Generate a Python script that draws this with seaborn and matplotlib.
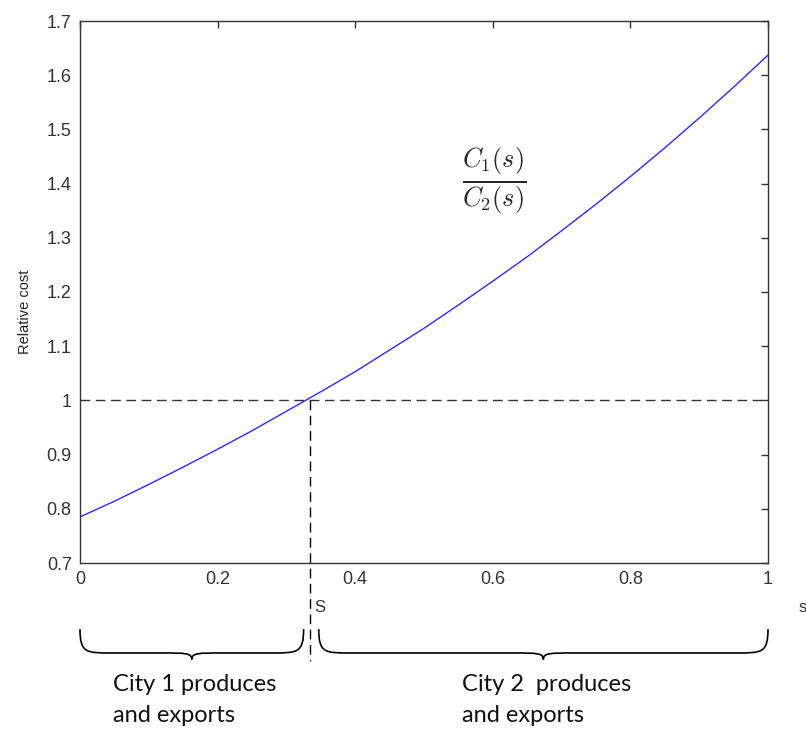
import matplotlib
matplotlib.use("Agg")
import matplotlib.pyplot as plt
from matplotlib.path import Path
from matplotlib.patches import PathPatch
import matplotlib.transforms as mtransforms
import seaborn as sns
import pandas as pd

# ---- data ----
s_values = [0.00, 0.05, 0.10, 0.15, 0.20, 0.25, 0.30, 0.35, 0.40, 0.45, 0.50,
            0.55, 0.60, 0.65, 0.70, 0.75, 0.80, 0.85, 0.90, 0.95, 1.00]
relative_cost = [0.785, 0.814, 0.845, 0.877, 0.910, 0.944, 0.980, 1.016, 1.053,
                 1.093, 1.133, 1.176, 1.220, 1.265, 1.313, 1.362, 1.413, 1.466,
                 1.521, 1.578, 1.637]
threshold_s = 0.335
threshold_cost = 1.0
x_ticks = [0, 0.2, 0.4, 0.6, 0.8, 1]
x_tick_labels = ["0", "0.2", "0.4", "0.6", "0.8", "1"]
y_ticks = [0.7, 0.8, 0.9, 1.0, 1.1, 1.2, 1.3, 1.4, 1.5, 1.6, 1.7]
y_tick_labels = ["0.7", "0.8", "0.9", "1", "1.1", "1.2", "1.3", "1.4", "1.5", "1.6", "1.7"]
region_labels = ["City 1 produces\nand exports", "City 2  produces\nand exports"]

df = pd.DataFrame({"s": s_values, "cost": relative_cost})

sns.set_style("white")
plt.rcParams["font.family"] = ["Liberation Sans", "DejaVu Sans"]
plt.rcParams["mathtext.fontset"] = "cm"

fig = plt.figure(figsize=(8.06, 7.34), dpi=100)
ax = fig.add_axes([80 / 806, 1 - 563 / 734, 688 / 806, 542 / 734])

sns.lineplot(data=df, x="s", y="cost", ax=ax, color="#2a2aff", linewidth=1.0)

ax.set_xlim(0, 1)
ax.set_ylim(0.7, 1.7)
ax.set_xticks(x_ticks)
ax.set_xticklabels(x_tick_labels)
ax.set_yticks(y_ticks)
ax.set_yticklabels(y_tick_labels)
ax.tick_params(direction="in", top=True, right=True, length=5, width=1,
               labelsize=13, labelcolor="#333333", color="#333333", pad=6)
for lab in ax.get_xticklabels() + ax.get_yticklabels():
    lab.set_family(["Liberation Sans", "DejaVu Sans"])
for sp in ax.spines.values():
    sp.set_color("#333333")
    sp.set_linewidth(1.0)
ax.set_xlabel("")
ax.set_ylabel("Relative cost", fontsize=10.5, color="#222222",
              family=["Liberation Sans", "DejaVu Sans"])
ax.yaxis.set_label_coords(-0.07, 0.463)

# dashed reference lines
ax.plot([0, 1], [threshold_cost, threshold_cost], ls=(0, (7, 4)), color="#333333", lw=1.0)
trans = mtransforms.blended_transform_factory(ax.transData, ax.transAxes)
ax.plot([threshold_s, threshold_s], [(threshold_cost - 0.7) / 1.0, -0.18],
        transform=trans, ls=(0, (7, 4)), color="black", lw=1.0, clip_on=False)

# fraction label
ax.text(0.602, 1.405, r"$\frac{C_1(s)}{C_2(s)}$", fontsize=27, ha="center", va="center")

# S and s labels
ax.text(threshold_s + 0.006, -0.083, "S", transform=trans, fontsize=12,
        color="#333333", ha="left", va="center", family=["Liberation Sans", "DejaVu Sans"])
ax.text(1.045, -0.083, "s", transform=trans, fontsize=12,
        color="#333333", ha="left", va="center", family=["Liberation Sans", "DejaVu Sans"])


def brace(x0, x1, ytop, ymid, ybot, r):
    xc = (x0 + x1) / 2
    verts = [(x0, ytop),
             (x0, ymid), (x0 + r * 0.2, ymid), (x0 + r, ymid),
             (xc - r, ymid),
             (xc - r * 0.2, ymid), (xc, ymid), (xc, ybot),
             (xc, ymid), (xc + r * 0.2, ymid), (xc + r, ymid),
             (x1 - r, ymid),
             (x1 - r * 0.2, ymid), (x1, ymid), (x1, ytop)]
    codes = [Path.MOVETO,
             Path.CURVE4, Path.CURVE4, Path.CURVE4,
             Path.LINETO,
             Path.CURVE4, Path.CURVE4, Path.CURVE4,
             Path.CURVE4, Path.CURVE4, Path.CURVE4,
             Path.LINETO,
             Path.CURVE4, Path.CURVE4, Path.CURVE4]
    return Path(verts, codes)


ytop, ymid, ybot = -0.122, -0.166, -0.178
for (a, b) in [(0.0, threshold_s - 0.01), (threshold_s + 0.012, 1.0)]:
    p = PathPatch(brace(a, b, ytop, ymid, ybot, 0.045), transform=trans,
                  fill=False, lw=1.2, color="black", clip_on=False)
    ax.add_patch(p)

for xl, lab in zip([0.048, 0.555], region_labels):
    ax.text(xl, -0.253, lab, transform=trans, fontsize=17,
            family=["Lato", "DejaVu Sans"], ha="left", va="center",
            linespacing=1.6, color="#111111")

fig.savefig("out.png", dpi=100)
